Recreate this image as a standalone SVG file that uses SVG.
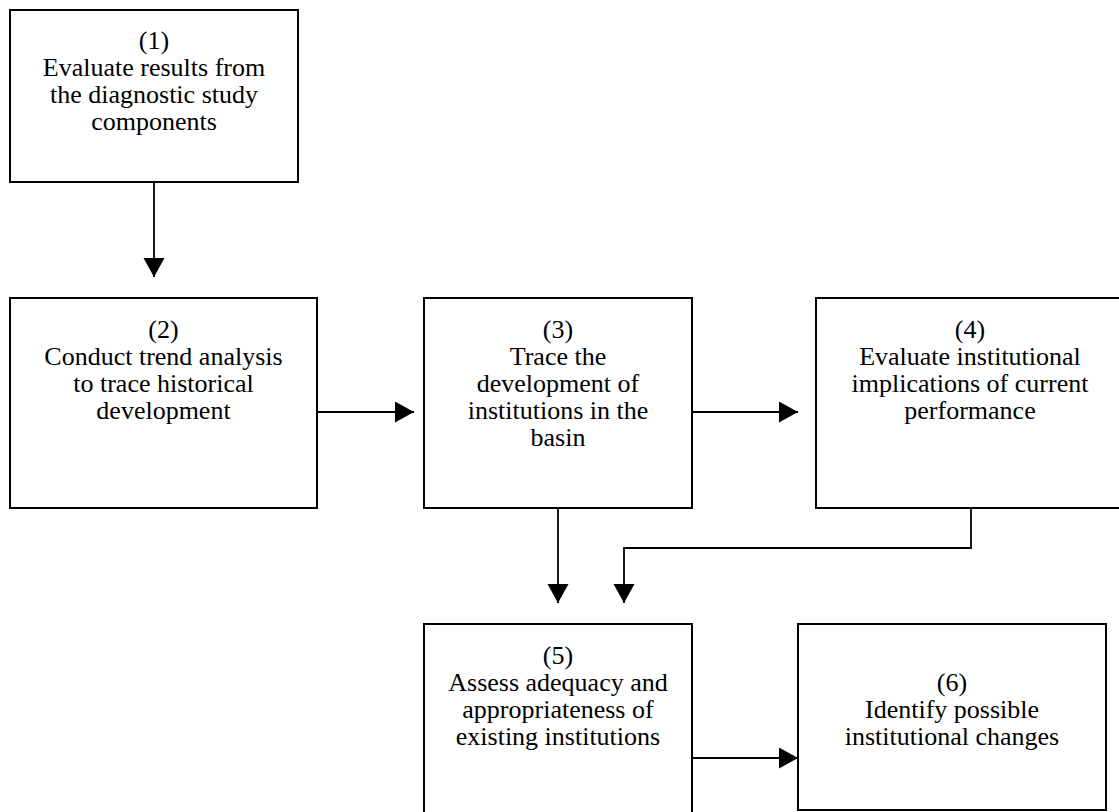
<svg xmlns="http://www.w3.org/2000/svg" width="1119" height="812" viewBox="0 0 1119 812">
  <style>
    .box { fill: #ffffff; stroke: #000000; stroke-width: 2; }
    .conn { fill: none; stroke: #000000; stroke-width: 1.8; }
    .t { font-family: "Liberation Serif", "Times New Roman", serif; font-size: 26px; fill: #000000; text-anchor: middle; }
  </style>
  <defs>
    <marker id="arr" markerUnits="userSpaceOnUse" markerWidth="20" markerHeight="22" refX="19" refY="10.5" orient="auto">
      <path d="M0,0 L19,10.5 L0,21 Z" fill="#000000"/>
    </marker>
  </defs>
  <rect width="1119" height="812" fill="#ffffff"/>

  <g id="node1">
    <rect class="box" x="10" y="10" width="288" height="172"/>
    <text class="t" x="154" y="49">(1)</text>
    <text class="t" x="154" y="76">Evaluate results from</text>
    <text class="t" x="154" y="103">the diagnostic study</text>
    <text class="t" x="154" y="130">components</text>
  </g>

  <g id="node2">
    <rect class="box" x="10" y="298" width="307" height="210"/>
    <text class="t" x="163.5" y="338">(2)</text>
    <text class="t" x="163.5" y="365">Conduct trend analysis</text>
    <text class="t" x="163.5" y="392">to trace historical</text>
    <text class="t" x="163.5" y="419">development</text>
  </g>

  <g id="node3">
    <rect class="box" x="424" y="298" width="268" height="210"/>
    <text class="t" x="558" y="338">(3)</text>
    <text class="t" x="558" y="365">Trace the</text>
    <text class="t" x="558" y="392">development of</text>
    <text class="t" x="558" y="419">institutions in the</text>
    <text class="t" x="558" y="446">basin</text>
  </g>

  <g id="node4">
    <rect class="box" x="816" y="298" width="308" height="210"/>
    <text class="t" x="970" y="338">(4)</text>
    <text class="t" x="970" y="365">Evaluate institutional</text>
    <text class="t" x="970" y="392">implications of current</text>
    <text class="t" x="970" y="419">performance</text>
  </g>

  <g id="node5">
    <rect class="box" x="424" y="624" width="268" height="210"/>
    <text class="t" x="558" y="664">(5)</text>
    <text class="t" x="558" y="691">Assess adequacy and</text>
    <text class="t" x="558" y="718">appropriateness of</text>
    <text class="t" x="558" y="745">existing institutions</text>
  </g>

  <g id="node6">
    <rect class="box" x="798" y="624" width="308" height="186"/>
    <text class="t" x="952" y="691">(6)</text>
    <text class="t" x="952" y="718">Identify possible</text>
    <text class="t" x="952" y="745">institutional changes</text>
  </g>

  <g id="connectors">
    <path class="conn" d="M154,182 L154,277" marker-end="url(#arr)"/>
    <path class="conn" d="M317,412 L414,412" marker-end="url(#arr)"/>
    <path class="conn" d="M692,412 L798,412" marker-end="url(#arr)"/>
    <path class="conn" d="M558,508 L558,603" marker-end="url(#arr)"/>
    <path class="conn" d="M971,508 L971,548 L624,548 L624,603" marker-end="url(#arr)"/>
    <path class="conn" d="M692,758 L798,758" marker-end="url(#arr)"/>
  </g>
</svg>
